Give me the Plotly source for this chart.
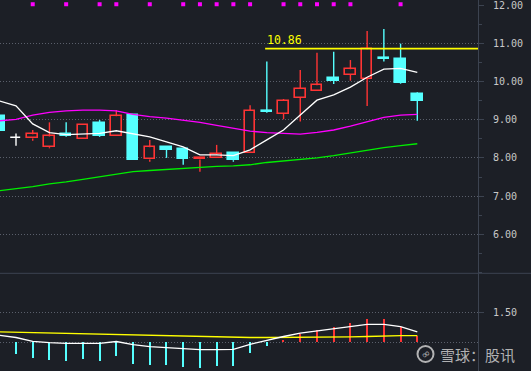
import plotly.graph_objects as go

# ---------------- data ----------------
idx = list(range(26))
opens = [9.10, 8.52, 8.51, 8.28, 8.62, 8.49, 8.91, 8.56, 9.12, 7.96, 8.28, 8.23, 7.96,
         8.00, 8.12, 8.14, 9.23, 9.16, 9.57, 9.74, 10.09, 10.18, 10.07, 10.62, 10.59, 9.67]
closes = [8.71, 8.52, 8.62, 8.56, 8.58, 8.85, 8.58, 9.09, 7.94, 8.28, 8.21, 7.97, 7.99,
          8.09, 7.94, 9.23, 9.20, 9.49, 9.80, 9.90, 10.02, 10.32, 10.84, 10.59, 9.97, 9.50]
highs = [9.10, 8.64, 8.73, 8.93, 8.93, 8.85, 8.99, 9.25, 9.12, 8.47, 8.28, 8.23, 7.99,
         8.34, 8.15, 9.38, 10.52, 9.54, 10.30, 10.75, 10.78, 10.56, 11.32, 11.37, 10.99, 9.72]
lows = [8.71, 8.32, 8.45, 8.25, 8.55, 8.49, 8.55, 8.56, 7.94, 7.90, 8.00, 7.82, 7.64,
        8.00, 7.90, 8.14, 9.18, 9.01, 8.95, 9.74, 9.93, 10.02, 9.36, 10.52, 9.94, 8.97]

ma5 = [9.49, 9.36, 8.89, 8.66, 8.61, 8.62, 8.64, 8.71, 8.62, 8.55, 8.42, 8.29, 8.08,
       8.08, 8.06, 8.21, 8.47, 8.73, 9.12, 9.51, 9.65, 9.85, 10.11, 10.32, 10.34, 10.24]
ma10 = [8.97, 9.01, 9.12, 9.19, 9.23, 9.25, 9.25, 9.23, 9.14, 9.08, 9.04, 8.99, 8.93,
        8.85, 8.77, 8.70, 8.66, 8.64, 8.62, 8.67, 8.73, 8.83, 8.95, 9.06, 9.12, 9.14]
ma_long = [7.14, 7.19, 7.25, 7.32, 7.37, 7.44, 7.51, 7.58, 7.64, 7.67, 7.70, 7.74, 7.75,
           7.78, 7.79, 7.82, 7.88, 7.92, 7.95, 8.00, 8.06, 8.13, 8.21, 8.27, 8.32, 8.37]

signal_idx = [2, 4, 6, 7, 9, 11, 12, 13, 14, 15, 17, 18, 19, 20, 21, 24]
signal_level = 12.02

hline_value = 10.86
hline_label = "10.86"
hline_start = 15.9

price_ticks = [6, 7, 8, 9, 10, 11, 12]
price_grid = [6, 7, 8, 9, 10, 11]

macd_idx = list(range(1, 26))
macd = [-0.61, -0.79, -0.91, -0.95, -0.86, -0.95, -0.69, -1.08, -1.14, -1.14, -1.25, -1.30,
        -1.20, -1.18, -0.54, -0.20, 0.12, 0.42, 0.61, 0.76, 0.93, 1.15, 1.16, 0.76, 0.30]
dif = [0.35, 0.24, 0.05, -0.02, -0.05, -0.05, -0.05, 0.04, -0.12, -0.22, -0.27, -0.35, -0.37,
       -0.37, -0.35, -0.10, 0.10, 0.29, 0.46, 0.57, 0.66, 0.76, 0.90, 0.90, 0.78, 0.52]
dea = [0.52, 0.50, 0.47, 0.47, 0.45, 0.42, 0.40, 0.40, 0.37, 0.33, 0.32, 0.29, 0.27,
       0.25, 0.24, 0.24, 0.24, 0.24, 0.24, 0.24, 0.25, 0.27, 0.29, 0.32, 0.33, 0.33]
macd_ticks = [1.5]
macd_grid = [0, 1.5]

watermark = "雪球：股讯"

# ---------------- styles ----------------
BG = "#1c1f26"
RED = "#ff3434"
CYAN = "#55ffff"
WHITE = "#ffffff"
MAGENTA = "#ff00ff"
GREEN = "#00ee00"
YELLOW = "#ffff00"
AXIS = "#3c4350"
GRID = "#5a5f6b"
LABEL = "#c8c8c8"
MONO = "DejaVu Sans Mono"

X_RANGE = [0.043, 28.63]
P_RANGE = [4.98, 12.131]
M_RANGE = [-1.435, 3.45]
SPLIT = 0.2633
MIN_BODY = 0.015

fig = go.Figure()

# candle bodies
bases, heights, fills, edges = [], [], [], []
for o, c in zip(opens, closes):
    lo, hi = min(o, c), max(o, c)
    h = hi - lo
    if h < MIN_BODY:
        lo -= (MIN_BODY - h) / 2
        h = MIN_BODY
    bases.append(lo)
    heights.append(h)
    if c > o:
        fills.append(BG); edges.append(RED)
    elif c < o:
        fills.append(CYAN); edges.append(CYAN)
    else:
        fills.append(WHITE); edges.append(WHITE)

fig.add_trace(go.Bar(x=idx, y=heights, base=bases, width=0.63,
                     marker=dict(color=fills, line=dict(color=edges, width=1.6)),
                     xaxis="x", yaxis="y", showlegend=False, hoverinfo="skip"))

# wicks, one trace per colour
for col in (RED, CYAN, WHITE):
    wx, wy = [], []
    for i, o, c, h, l, e in zip(idx, opens, closes, highs, lows, edges):
        if e != col:
            continue
        top, bot = max(o, c), min(o, c)
        if h > top:
            wx += [i, i, None]; wy += [top, h, None]
        if l < bot:
            wx += [i, i, None]; wy += [l, bot, None]
    if wx:
        fig.add_trace(go.Scatter(x=wx, y=wy, mode="lines", line=dict(color=col, width=1.4),
                                 xaxis="x", yaxis="y", showlegend=False, hoverinfo="skip"))

# moving averages (overlay axis so they sit above candles)
for series, col in ((ma_long, GREEN), (ma10, MAGENTA), (ma5, WHITE)):
    fig.add_trace(go.Scatter(x=idx, y=series, mode="lines", line=dict(color=col, width=1.3),
                             xaxis="x", yaxis="y3", showlegend=False, hoverinfo="skip"))

# horizontal level line
fig.add_trace(go.Scatter(x=[hline_start, X_RANGE[1]], y=[hline_value, hline_value], mode="lines",
                         line=dict(color=YELLOW, width=1.6), xaxis="x", yaxis="y3",
                         showlegend=False, hoverinfo="skip"))

# signal markers on top
fig.add_trace(go.Scatter(x=signal_idx, y=[signal_level] * len(signal_idx), mode="markers",
                         marker=dict(symbol="square", size=4, color=MAGENTA, line=dict(width=0)),
                         xaxis="x", yaxis="y3", showlegend=False, hoverinfo="skip"))

# MACD histogram
fig.add_trace(go.Bar(x=macd_idx, y=macd, width=0.07,
                     marker=dict(color=[RED if v > 0 else CYAN for v in macd], line=dict(width=0)),
                     xaxis="x2", yaxis="y2", showlegend=False, hoverinfo="skip"))
fig.add_trace(go.Scatter(x=idx, y=dea, mode="lines", line=dict(color=YELLOW, width=1.3),
                         xaxis="x2", yaxis="y4", showlegend=False, hoverinfo="skip"))
fig.add_trace(go.Scatter(x=idx, y=dif, mode="lines", line=dict(color=WHITE, width=1.3),
                         xaxis="x2", yaxis="y4", showlegend=False, hoverinfo="skip"))

label_axis = dict(side="right", showline=True, linecolor=AXIS, linewidth=1, mirror=False,
                  ticks="outside", ticklen=5, tickcolor=AXIS, tickwidth=1, showgrid=False,
                  zeroline=False, tickfont=dict(family=MONO, size=10, color=LABEL),
                  ticklabelstandoff=7, ticklabeloverflow="allow", fixedrange=True)
grid_axis = dict(side="right", showgrid=True, gridcolor=GRID, gridwidth=1, griddash="1px,2px",
                 showticklabels=False, ticks="", showline=False, zeroline=False, fixedrange=True)

fig.update_layout(
    width=531, height=371,
    margin=dict(l=0, r=53, t=0, b=0, pad=0),
    paper_bgcolor=BG, plot_bgcolor=BG,
    barmode="overlay", bargap=0,
    showlegend=False,
    xaxis=dict(domain=[0, 1], range=X_RANGE, anchor="y", visible=False, fixedrange=True),
    xaxis2=dict(domain=[0, 1], range=X_RANGE, anchor="y2", visible=False, fixedrange=True),
    yaxis=dict(domain=[SPLIT, 1], range=P_RANGE, anchor="x",
               tickvals=price_ticks, ticktext=[f"{v:.2f}" for v in price_ticks],
               minor=dict(dtick=0.5, tick0=0, ticks="outside", ticklen=3, tickcolor=AXIS,
                          showgrid=False),
               **label_axis),
    yaxis3=dict(overlaying="y", range=P_RANGE, anchor="x", tickvals=price_grid, **grid_axis),
    yaxis2=dict(domain=[0, SPLIT], range=M_RANGE, anchor="x2",
                tickvals=macd_ticks, ticktext=[f"{v:.2f}" for v in macd_ticks], **label_axis),
    yaxis4=dict(overlaying="y2", range=M_RANGE, anchor="x2", tickvals=macd_grid, **grid_axis),
    shapes=[
        dict(type="line", xref="paper", yref="paper", x0=0, x1=531 / 478, y0=SPLIT, y1=SPLIT,
             line=dict(color=AXIS, width=1)),
        dict(type="circle", xref="paper", yref="paper",
             x0=417.5 / 478, x1=433.5 / 478, y0=1 - 362 / 371, y1=1 - 346 / 371,
             line=dict(color="rgba(205,205,205,0.85)", width=2)),
    ],
    annotations=[
        dict(x=hline_start, y=hline_value, xref="x", yref="y", text=hline_label,
             showarrow=False, xanchor="left", yanchor="bottom", yshift=0,
             font=dict(family=MONO, size=11.5, color=YELLOW)),
        dict(x=437.5 / 478, y=1 - 354 / 371, xref="paper", yref="paper", text=watermark,
             showarrow=False, xanchor="left", yanchor="middle",
             font=dict(family="Noto Sans CJK SC", size=15, color="rgba(205,205,205,0.85)")),
        dict(x=425.5 / 478, y=1 - 354 / 371, xref="paper", yref="paper", text="∞",
             showarrow=False, xanchor="center", yanchor="middle", textangle=-35,
             font=dict(family="DejaVu Sans", size=11, color="rgba(205,205,205,0.85)")),
    ],
)

fig.write_html("out.html", config={"displayModeBar": False},
               post_script="document.body.style.margin='0';document.body.style.overflow='hidden';")
